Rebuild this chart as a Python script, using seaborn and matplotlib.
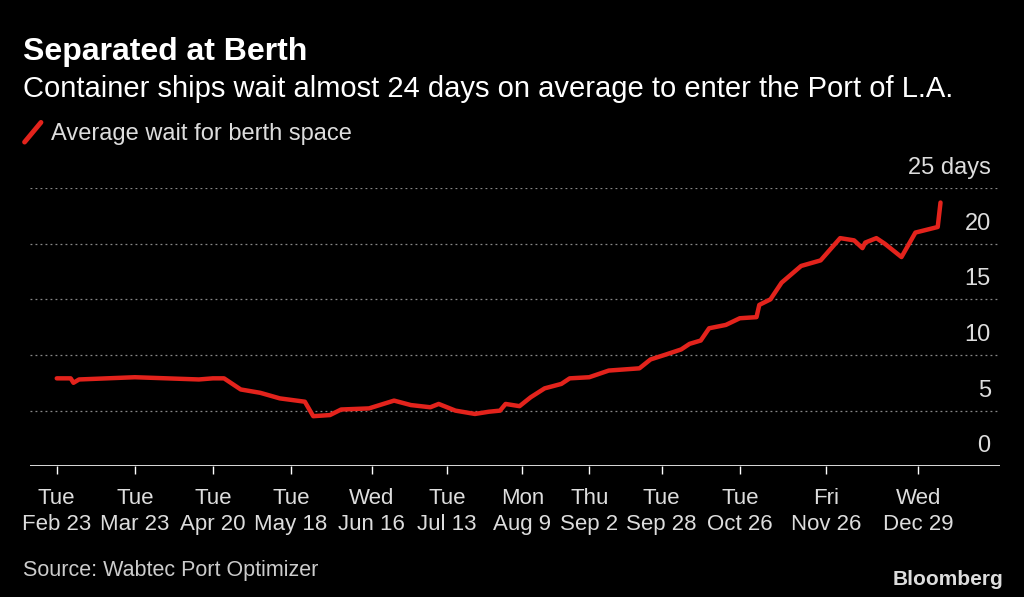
import pandas as pd
import matplotlib
matplotlib.use("Agg")
import matplotlib.pyplot as plt
import seaborn as sns
from matplotlib.lines import Line2D

# 2021-02-23 からの経過日数と平均待ち日数
day_offset = [0, 5, 6, 8, 28, 51, 56, 60, 66, 73, 80, 89, 92, 98, 102, 112, 121, 127, 134, 137, 143,
              150, 155, 159, 161, 166, 170, 175, 181, 184, 191, 198, 209, 213, 218, 224, 227, 231, 234,
              240, 245, 251, 252, 256, 260, 267, 274, 281, 286, 289, 290, 294, 297, 303, 308, 316, 317]
wait_days = [7.9, 7.9, 7.5, 7.8, 8.0, 7.8, 7.9, 7.9, 6.9, 6.6, 6.1, 5.8, 4.5, 4.6, 5.1, 5.2, 5.9, 5.5,
             5.3, 5.6, 5.0, 4.7, 4.9, 5.0, 5.6, 5.4, 6.2, 7.0, 7.4, 7.9, 8.0, 8.6, 8.8, 9.6, 10.0, 10.5,
             11.0, 11.3, 12.4, 12.7, 13.3, 13.4, 14.5, 15.0, 16.5, 18.0, 18.5, 20.5, 20.3, 19.6, 20.1,
             20.5, 20.0, 18.8, 21.0, 21.5, 23.7]

tick_days = [0, 28, 56, 84, 113, 140, 167, 191, 217, 245, 276, 309]
tick_labels = ["Tue\nFeb 23", "Tue\nMar 23", "Tue\nApr 20", "Tue\nMay 18", "Wed\nJun 16", "Tue\nJul 13",
               "Mon\nAug 9", "Thu\nSep 2", "Tue\nSep 28", "Tue\nOct 26", "Fri\nNov 26", "Wed\nDec 29"]
y_ticks = [0, 5, 10, 15, 20, 25]
y_labels = ["0", "5", "10", "15", "20", "25 days"]

df = pd.DataFrame({"day": day_offset, "wait": wait_days})

sns.set_theme(style="dark")
plt.rcParams["font.family"] = ["Liberation Sans", "DejaVu Sans"]

fig = plt.figure(figsize=(10.24, 5.97), dpi=100, facecolor="black")
ax = fig.add_axes([0.029, 0.219, 0.948, 0.466], facecolor="black")

sns.lineplot(data=df, x="day", y="wait", ax=ax, color="#e3231c", linewidth=3.2, sort=False)

ax.set_xlim(-9.7, 338.5)
ax.set_ylim(0, 25)
for v in y_ticks[1:]:
    ax.axhline(v, color="#888888", linestyle=(0, (1.5, 2.5)), linewidth=0.9, zorder=0)
ax.axhline(0, color="white", linewidth=1.2)
for v, lab in zip(y_ticks, y_labels):
    ax.text(0.99, v + 0.8, lab, transform=ax.get_yaxis_transform(), ha="right", va="bottom",
            color="#dddddd", fontsize=17)

ax.set_xticks(tick_days)
ax.set_xticklabels(tick_labels, color="#dddddd", fontsize=16, linespacing=1.3)
ax.tick_params(axis="x", length=6, color="white", width=1, pad=10, bottom=True)
ax.set_yticks([])
ax.set_xlabel("")
ax.set_ylabel("")
for s in ax.spines.values():
    s.set_visible(False)

fig.text(0.022, 0.900, "Separated at Berth", color="white", fontsize=23, fontweight="bold")
fig.text(0.022, 0.838, "Container ships wait almost 24 days on average to enter the Port of L.A.",
         color="white", fontsize=21)
fig.add_artist(Line2D([0.024, 0.040], [0.762, 0.795], color="#e3231c", linewidth=3.5))
fig.text(0.050, 0.765, "Average wait for berth space", color="#dddddd", fontsize=17)
fig.text(0.022, 0.035, "Source: Wabtec Port Optimizer", color="#cccccc", fontsize=15.5)
fig.text(0.980, 0.02, "Bloomberg", color="#dddddd", fontsize=15, fontweight="bold", ha="right")

fig.savefig("out.png", dpi=100, facecolor="black")
